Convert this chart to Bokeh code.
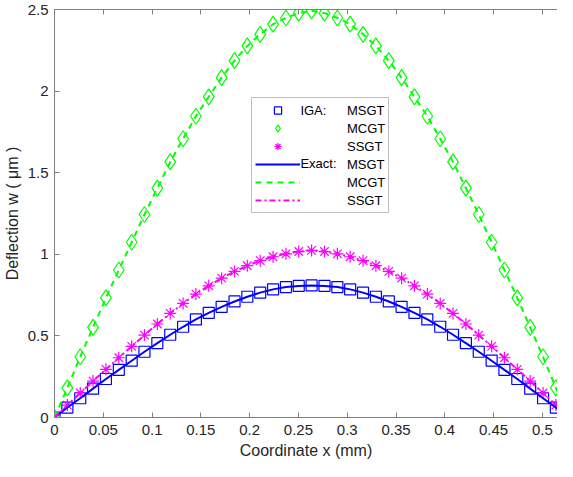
import numpy as np
from bokeh.plotting import figure
from bokeh.models import Legend, LegendItem, LinearAxis, FixedTicker, Range1d, NumeralTickFormatter
from bokeh.core.properties import value
from bokeh.embed import file_html
from bokeh.resources import INLINE

# ---- data ----
x_pts = [0.0, 0.0132, 0.0264, 0.0395, 0.0527, 0.0659, 0.0791, 0.0922, 0.1054, 0.1186,
         0.1318, 0.1449, 0.1581, 0.1713, 0.1845, 0.1976, 0.2108, 0.2240, 0.2372, 0.2503,
         0.2635, 0.2767, 0.2899, 0.3030, 0.3162, 0.3294, 0.3426, 0.3557, 0.3689, 0.3821,
         0.3953, 0.4084, 0.4216, 0.4348, 0.4480, 0.4611, 0.4743, 0.4875, 0.5007, 0.5138, 0.5270]

w_msgt = [0.0, 0.061, 0.118, 0.177, 0.236, 0.292, 0.348, 0.403, 0.456, 0.507,
          0.556, 0.601, 0.641, 0.678, 0.711, 0.740, 0.765, 0.785, 0.799, 0.806,
          0.809, 0.806, 0.799, 0.785, 0.765, 0.740, 0.711, 0.678, 0.641, 0.601,
          0.556, 0.507, 0.456, 0.403, 0.348, 0.292, 0.236, 0.177, 0.118, 0.061, 0.0]

w_mcgt = [0.0, 0.182, 0.372, 0.552, 0.733, 0.904, 1.074, 1.244, 1.405, 1.566,
          1.708, 1.846, 1.965, 2.083, 2.187, 2.277, 2.348, 2.410, 2.448, 2.478,
          2.492, 2.478, 2.448, 2.410, 2.348, 2.277, 2.187, 2.083, 1.965, 1.846,
          1.708, 1.566, 1.405, 1.244, 1.074, 0.904, 0.733, 0.552, 0.372, 0.182, 0.0]

w_ssgt = [0.0, 0.076, 0.150, 0.223, 0.295, 0.366, 0.436, 0.505, 0.573, 0.638,
          0.699, 0.756, 0.807, 0.854, 0.895, 0.930, 0.961, 0.985, 1.003, 1.017,
          1.024, 1.017, 1.003, 0.985, 0.961, 0.930, 0.895, 0.854, 0.807, 0.756,
          0.699, 0.638, 0.573, 0.505, 0.436, 0.366, 0.295, 0.223, 0.150, 0.076, 0.0]

x_ticks = [0, 0.05, 0.1, 0.15, 0.2, 0.25, 0.3, 0.35, 0.4, 0.45, 0.5]
y_ticks = [0, 0.5, 1, 1.5, 2, 2.5]
legend_labels = ["MSGT", "MCGT", "SSGT", "MSGT", "MCGT", "SSGT"]
group_labels = ["IGA:", "Exact:"]
group_x = [0.252, 0.252]
group_y = [1.884, 1.555]

FONT = "Liberation Sans"
AX = "#808080"
TXT = "#262626"

p = figure(width=557, height=461, output_backend="svg", toolbar_location=None,
           x_range=Range1d(0, 0.5155), y_range=Range1d(0, 2.5),
           min_border_left=50, min_border_right=0, min_border_top=9, min_border_bottom=40)
p.xgrid.visible = False
p.ygrid.visible = False
p.outline_line_color = None
p.background_fill_color = "white"

for ax, ticks, fmt in ((p.xaxis[0], x_ticks, "0.[00]"), (p.yaxis[0], y_ticks, "0.[0]")):
    ax.ticker = FixedTicker(ticks=ticks)
    ax.formatter = NumeralTickFormatter(format=fmt)
    ax.minor_tick_line_color = None
    ax.major_tick_in = 5
    ax.major_tick_out = 0
    ax.axis_line_color = AX
    ax.major_tick_line_color = AX
    ax.major_label_text_font = FONT
    ax.major_label_text_font_size = "15px"
    ax.major_label_text_color = TXT
    ax.axis_label_text_font = FONT
    ax.axis_label_text_font_size = "16px"
    ax.axis_label_text_font_style = "normal"
    ax.axis_label_text_color = TXT

p.xaxis.axis_label = "Coordinate x (mm)"
p.yaxis.axis_label = "Deflection w ( μm )"
p.xaxis.major_label_standoff = 7
p.xaxis.axis_label_standoff = 4
p.yaxis.major_label_standoff = 6
p.yaxis.axis_label_standoff = 4

top = LinearAxis(ticker=FixedTicker(ticks=x_ticks), major_label_text_font_size="1px",
                 major_label_text_color=None, major_label_standoff=0,
                 major_tick_in=5, major_tick_out=0,
                 minor_tick_line_color=None, axis_line_color=AX, major_tick_line_color=AX)
p.add_layout(top, "above")

BLUE, GREEN, MAG = "#0000ff", "#00ff00", "#ff00ff"

r_sq = p.scatter(x_pts, w_msgt, marker="square", size=11, fill_color=None,
                 line_color=BLUE, line_width=1.2)
r_di = p.scatter(x_pts, w_mcgt, marker="diamond", size=16, fill_color=None,
                 line_color=GREEN, line_width=1.2)
r_st = p.scatter(x_pts, w_ssgt, marker="asterisk", size=12,
                 line_color=MAG, line_width=1.2)
r_l1 = p.line(x_pts, w_msgt, line_color=BLUE, line_width=2)
r_l2 = p.line(x_pts, w_mcgt, line_color=GREEN, line_width=2, line_dash="6 5")
r_l3 = p.line(x_pts, w_ssgt, line_color=MAG, line_width=2, line_dash="6 3 2 3")

# group headings of the two-column legend ("IGA:" / "Exact:")
p.text(x=group_x, y=group_y, text=group_labels, text_font=value(FONT),
       text_font_size="13px", text_baseline="middle", text_align="left", text_color="black")

renders = [r_sq, r_di, r_st, r_l1, r_l2, r_l3]
items = [LegendItem(label=lab, renderers=[r]) for lab, r in zip(legend_labels, renders)]
legend = Legend(items=items, location=(197, 204), glyph_width=45, glyph_height=18,
                label_height=18, label_standoff=47, spacing=0, padding=3, margin=0,
                border_line_color="#7f7f7f", border_line_width=1,
                background_fill_alpha=0.0,
                label_text_font=FONT, label_text_font_size="13px", label_text_color="black")
p.add_layout(legend, "center")

open("out.html", "w").write(file_html(p, INLINE))
